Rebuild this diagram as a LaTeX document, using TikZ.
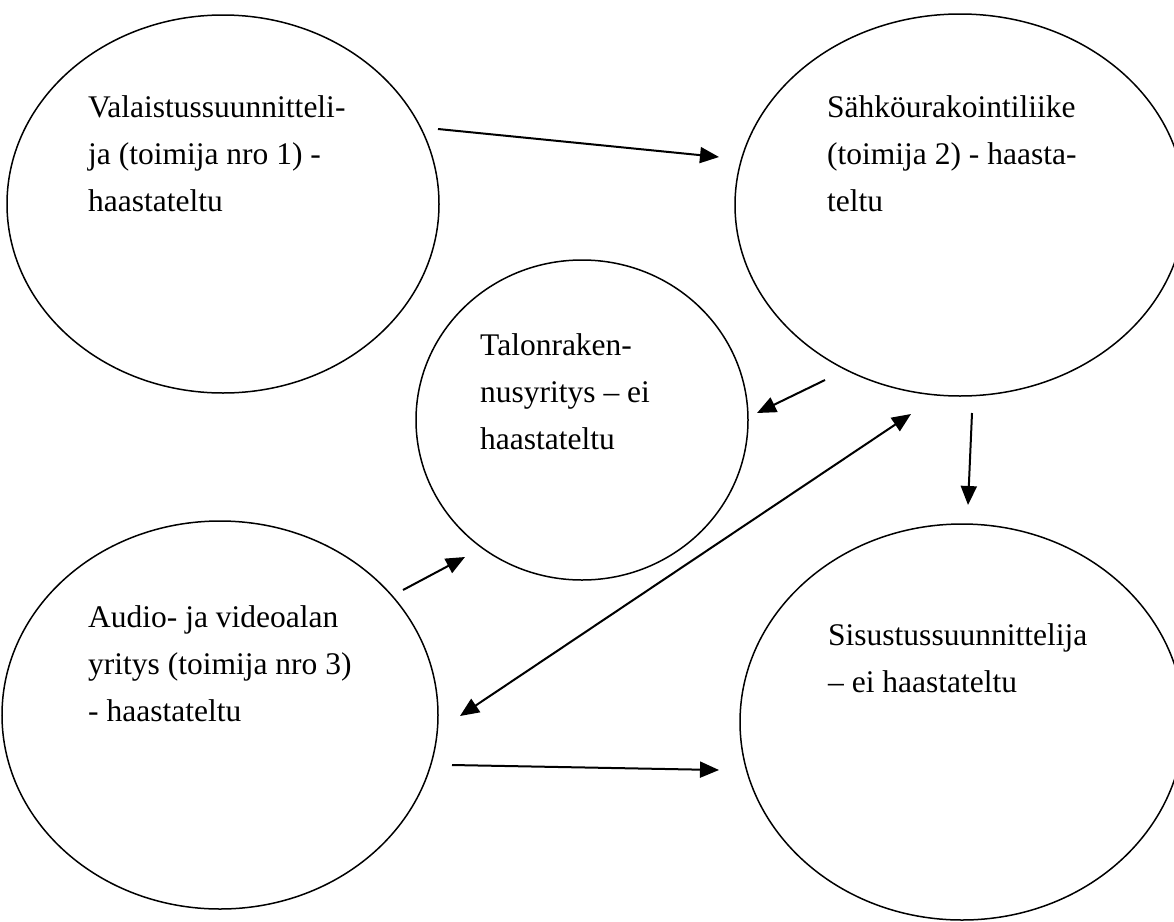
\documentclass[tikz,border=0pt]{standalone}
\usepackage{fontspec}
\setmainfont{Liberation Serif}
\usetikzlibrary{shapes.geometric,arrows.meta}
\tikzset{
  actor/.style={draw, ellipse, line width=1.5pt, inner sep=0pt},
  label/.style={anchor=base west, inner sep=0pt},
  tip/.style={Triangle[length=19pt,width=16pt]},
  flow/.style={line width=2pt, -{Triangle[length=19pt,width=16pt]}},
  both/.style={line width=2pt, {Triangle[length=19pt,width=16pt]}-{Triangle[length=19pt,width=16pt]}}
}
\newcommand{\boxtext}[1]{\parbox[t]{12cm}{\raggedright\fontsize{31.5}{47}\selectfont #1}}
\begin{document}
\begin{tikzpicture}[x=1pt,y=-1pt]
\useasboundingbox (0,0) rectangle (1174,921);
% actors
\node[actor, minimum width=432pt, minimum height=378pt] (valo) at (223,204) {};
\node[actor, minimum width=450pt, minimum height=382pt] (sahko) at (960,205) {};
\node[actor, minimum width=332pt, minimum height=320pt] (talo) at (582,420) {};
\node[actor, minimum width=436pt, minimum height=388pt] (audio) at (220,715) {};
\node[actor, minimum width=444pt, minimum height=396pt] (sisu) at (962,722) {};
% texts
\node[label] (tvalo) at (88,117) {\boxtext{Valaistussuunnitteli-\\ja (toimija nro 1) -\\haastateltu}};
\node[label] (tsahko) at (827,117) {\boxtext{Sähköurakointiliike\\(toimija 2) - haasta-\\teltu}};
\node[label] (ttalo) at (480,355) {\boxtext{Talonraken-\\nusyritys – ei\\haastateltu}};
\node[label] (taudio) at (88,627) {\boxtext{Audio- ja videoalan\\yritys (toimija nro 3)\\- haastateltu}};
\node[label] (tsisu) at (828,645) {\boxtext{Sisustussuunnittelija\\– ei haastateltu}};
% connector end points
\coordinate (a1s) at (438,129); \coordinate (a1e) at (719,157);
\coordinate (a2s) at (825,380); \coordinate (a2e) at (757,413);
\coordinate (a3s) at (972,413); \coordinate (a3e) at (968,505);
\coordinate (a4s) at (403,590); \coordinate (a4e) at (465,557);
\coordinate (a5s) at (911,414); \coordinate (a5e) at (460,716);
\coordinate (a6s) at (452,765); \coordinate (a6e) at (719,770);
% connectors
\draw[flow] (a1s) -- (a1e);
\draw[flow] (a2s) -- (a2e);
\draw[flow] (a3s) -- (a3e);
\draw[flow] (a4s) -- (a4e);
\draw[both] (a5s) -- (a5e);
\draw[flow] (a6s) -- (a6e);
\end{tikzpicture}
\end{document}
